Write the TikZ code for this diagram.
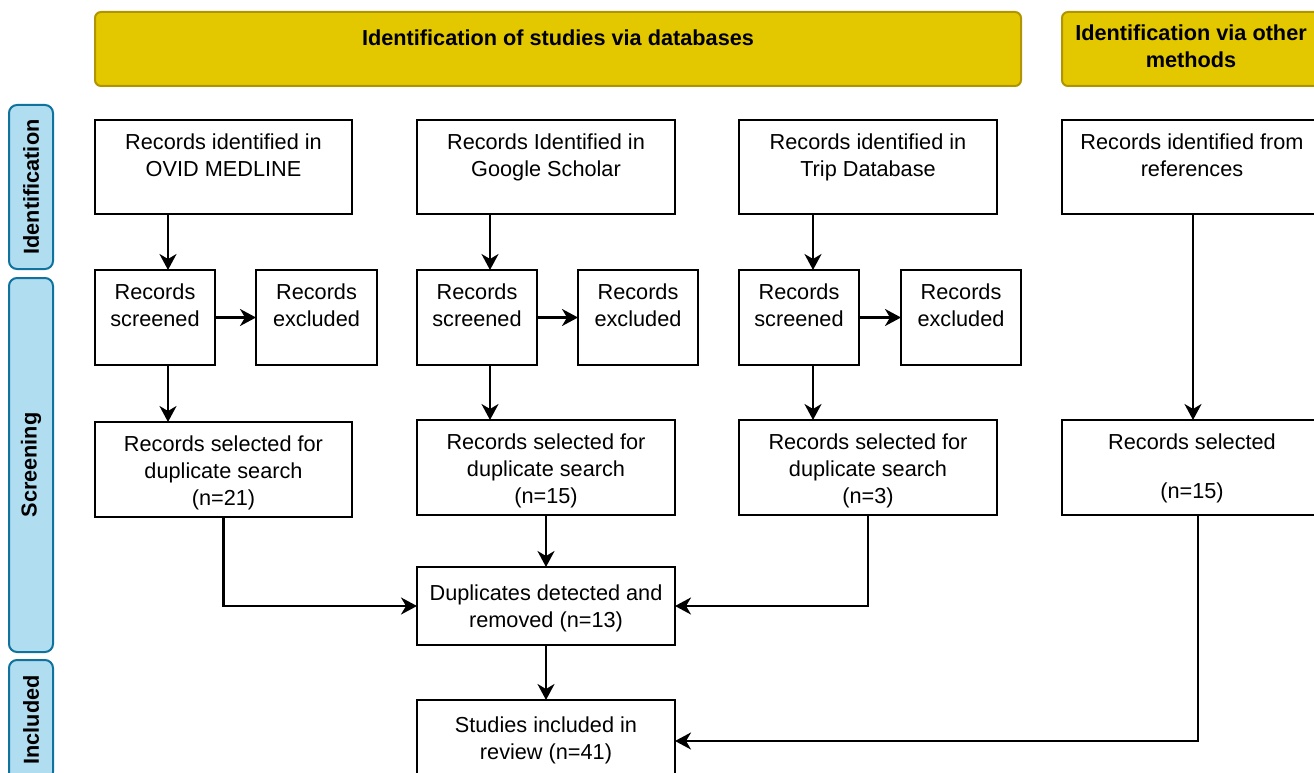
\documentclass[tikz,border=0pt]{standalone}
\usepackage{fontspec}
\setmainfont{Liberation Sans}
\usepackage{tikz}
\usetikzlibrary{positioning,arrows.meta}
\definecolor{hdrgold}{HTML}{E3C800}
\definecolor{hdrline}{HTML}{B09500}
\definecolor{phasefill}{HTML}{B1DDF0}
\definecolor{phaseline}{HTML}{10739E}
\begin{document}
\begin{tikzpicture}[
        x=1pt, y=-1pt,
        recbox/.style={
            rectangle, draw = black, line width = 2.4pt, fill = white, align = center,
            inner xsep = 4pt, inner ysep = 0pt, outer sep = 0pt, text height = 56pt,
            font = \fontsize{21.7}{27}\selectfont
        },
        header/.style={
            rectangle, draw = hdrline, line width = 2pt, fill = hdrgold, rounded corners = 6pt,
            align = center, inner ysep = 0pt, outer sep = 0pt,
            font = \bfseries\fontsize{21.7}{27}\selectfont
        },
        phase/.style={
            rectangle, draw = phaseline, line width = 2pt, fill = phasefill, rounded corners = 8pt,
            rotate = 90, minimum height = 44pt, inner sep = 0pt,
            font = \bfseries\fontsize{21.7}{27}\selectfont
        },
        arr/.style={line width = 2.4pt, -{Stealth[length=16pt,width=17pt,inset=5pt]}},
    ]
        \useasboundingbox (0,0) rectangle (1314,773);
        \clip (0,0) rectangle (1314,773);

        \node (hdrDatabases) [header,anchor=north,minimum width=926pt,text height=34pt,text depth=40pt] at (558,12) {Identification of studies via databases};
        \node (hdrOther) [header,anchor=north,minimum width=258pt,text height=56pt,text depth=18pt] at (1191,12) {Identification via other\\methods};

        \node (phaseIdent) [phase,minimum width=164pt] at (31,187) {Identification};
        \node (phaseScreen) [phase,minimum width=374pt] at (31,465) {Screening};
        \node (phaseIncl) [phase,minimum width=120pt] at (31,720) {Included};

        \node (idOvid) [recbox,anchor=north,minimum width=257pt,text depth=38pt] at (223.5,120) {Records identified in\\OVID MEDLINE};
        \node (screenOvid) [recbox,anchor=north,minimum width=120pt,text depth=39pt] at (155,270) {Records\\screened};
        \node (exclOvid) [recbox,minimum width=121pt,text depth=39pt,right=41pt of screenOvid] {Records\\excluded};
        \node (selOvid) [recbox,anchor=north,minimum width=257pt,text height=83pt,text depth=12pt] at (223.5,422) {Records selected for\\duplicate search\\(n=21)};
        \path ([xshift=13pt]screenOvid.north |- idOvid.south) edge[arr] ([xshift=13pt]screenOvid.north);
        \path (screenOvid) edge[arr] (exclOvid);
        \path ([xshift=13pt]screenOvid.south) edge[arr] ([xshift=13pt]screenOvid.south |- selOvid.north);

        \node (idScholar) [recbox,anchor=north,minimum width=258pt,text depth=38pt] at (546,120) {Records Identified in\\Google Scholar};
        \node (screenScholar) [recbox,anchor=north,minimum width=120pt,text depth=39pt] at (477,270) {Records\\screened};
        \node (exclScholar) [recbox,minimum width=120pt,text depth=39pt,right=41pt of screenScholar] {Records\\excluded};
        \node (selScholar) [recbox,anchor=north,minimum width=258pt,text height=83pt,text depth=12pt] at (546,420) {Records selected for\\duplicate search\\(n=15)};
        \path ([xshift=13pt]screenScholar.north |- idScholar.south) edge[arr] ([xshift=13pt]screenScholar.north);
        \path (screenScholar) edge[arr] (exclScholar);
        \path ([xshift=13pt]screenScholar.south) edge[arr] ([xshift=13pt]screenScholar.south |- selScholar.north);

        \node (idTrip) [recbox,anchor=north,minimum width=258pt,text depth=38pt] at (868,120) {Records identified in\\Trip Database};
        \node (screenTrip) [recbox,anchor=north,minimum width=120pt,text depth=39pt] at (799,270) {Records\\screened};
        \node (exclTrip) [recbox,minimum width=120pt,text depth=39pt,right=42pt of screenTrip] {Records\\excluded};
        \node (selTrip) [recbox,anchor=north,minimum width=258pt,text height=83pt,text depth=12pt] at (868,420) {Records selected for\\duplicate search\\(n=3)};
        \path ([xshift=14pt]screenTrip.north |- idTrip.south) edge[arr] ([xshift=14pt]screenTrip.north);
        \path (screenTrip) edge[arr] (exclTrip);
        \path ([xshift=14pt]screenTrip.south) edge[arr] ([xshift=14pt]screenTrip.south |- selTrip.north);

        \node (idRefs) [recbox,anchor=north,minimum width=260pt,text depth=38pt] at (1192,120) {Records identified from\\references};
        \node (selRefs) [recbox,anchor=north,minimum width=260pt,text height=78pt,text depth=17pt] at (1192,420) {Records selected\\[22pt](n=15)};
        \path ([xshift=1pt]idRefs.south) edge[arr] ([xshift=1pt]selRefs.north);

        \node (dupRemoved) [recbox,anchor=north,minimum width=258pt,text height=60pt,text depth=18pt] at (546,567) {Duplicates detected and\\removed (n=13)};
        \node (included) [recbox,anchor=north,minimum width=258pt,text height=59pt,text depth=23pt] at (546,700) {Studies included in\\review (n=41)};

        \draw[arr] (selOvid.south) |- (dupRemoved.west);
        \path (selScholar) edge[arr] (dupRemoved);
        \draw[arr] (selTrip.south) |- (dupRemoved.east);
        \path (dupRemoved) edge[arr] (included);
        \draw[arr] ([xshift=6pt]selRefs.south) |- (included.east);

    \end{tikzpicture}
\end{document}
